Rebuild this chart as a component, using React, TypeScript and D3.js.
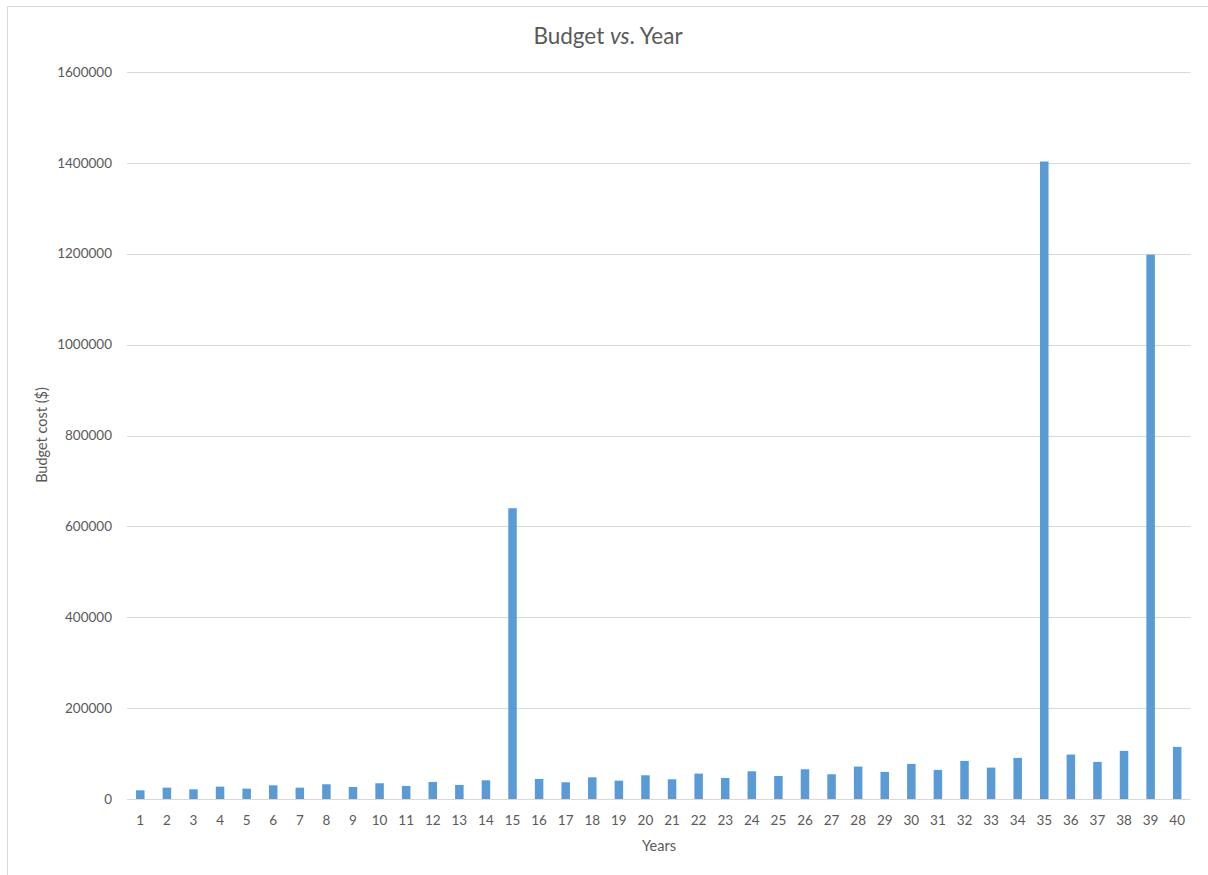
import React from "react";
import * as d3 from "d3";

const years: string[] = Array.from({ length: 40 }, (_, i) => String(i + 1));
const budget: number[] = [
  19100, 25000, 21300, 27200, 22800, 30100, 25000, 32400, 26500, 34600,
  28700, 37500, 30900, 41200, 640000, 44100, 36800, 47800, 40400, 52200,
  43400, 55900, 46300, 61000, 50700, 65400, 54400, 71300, 59600, 77200,
  64000, 83800, 69100, 90400, 1403000, 97800, 81600, 105900, 1198000, 114700,
];
const yTicks: number[] = [0, 200000, 400000, 600000, 800000, 1000000, 1200000, 1400000, 1600000];

const W = 1208;
const H = 875;
const M = { left: 127, right: 1190.5, top: 72, bottom: 799 };
const FONT = "Lato, 'Open Sans', sans-serif";
const TXT = "#595959";

export default function App() {
  const x = d3.scaleBand<string>().domain(years).range([M.left, M.right]).paddingInner(0.68).paddingOuter(0.34);
  const y = d3.scaleLinear().domain([0, 1600000]).range([M.bottom, M.top]);
  const band = d3.scaleBand<string>().domain(years).range([M.left, M.right]);

  return (
    <svg width={W} height={H} style={{ position: "absolute", left: 0, top: 0, background: "#fff" }}>
      <rect x={7.5} y={6.5} width={1210} height={880} fill="#fff" stroke="#d9d9d9" strokeWidth={1} />
      <text x={608} y={44} textAnchor="middle" fontFamily={FONT} fontSize={22.5} fill={TXT}>
        Budget <tspan fontStyle="italic">vs</tspan>. Year
      </text>
      {yTicks.map((t) => (
        <g key={t}>
          {t > 0 && (
            <line x1={M.left} x2={M.right} y1={Math.round(y(t)) + 0.5} y2={Math.round(y(t)) + 0.5} stroke="#d9d9d9" strokeWidth={1} />
          )}
          <text x={112} y={y(t)} dy="0.35em" textAnchor="end" fontFamily={FONT} fontSize={13.5} fill={TXT}>
            {t}
          </text>
        </g>
      ))}
      {years.map((c, i) => (
        <rect key={c} x={x(c)} y={y(budget[i])} width={x.bandwidth()} height={M.bottom - y(budget[i])} fill="#5b9bd5" />
      ))}
      <line x1={M.left} x2={M.right} y1={M.bottom + 0.5} y2={M.bottom + 0.5} stroke="#d9d9d9" strokeWidth={1} />
      {years.map((c) => (
        <text key={c} x={(band(c) as number) + band.bandwidth() / 2} y={820} dy="0.35em" textAnchor="middle" fontFamily={FONT} fontSize={13.5} fill={TXT}>
          {c}
        </text>
      ))}
      <text x={659} y={846} dy="0.35em" textAnchor="middle" fontFamily={FONT} fontSize={14.5} fill={TXT}>
        Years
      </text>
      <text transform={`translate(42,435) rotate(-90)`} dy="0.35em" textAnchor="middle" fontFamily={FONT} fontSize={14.5} fill={TXT}>
        Budget cost ($)
      </text>
    </svg>
  );
}
